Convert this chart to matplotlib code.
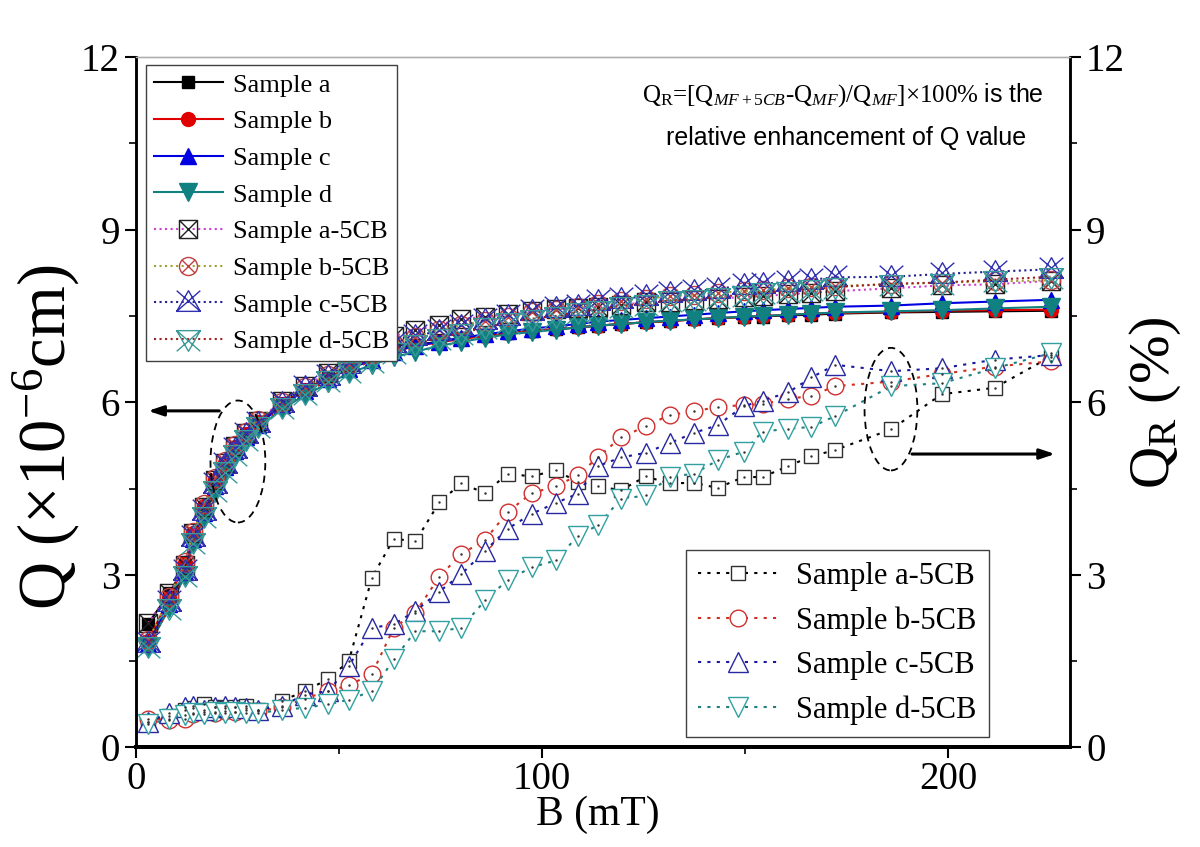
import numpy as np
import matplotlib.pyplot as plt
from matplotlib.path import Path
from matplotlib.patches import Ellipse

plt.rcParams['font.family'] = ['Liberation Serif', 'DejaVu Serif']
plt.rcParams['mathtext.fontset'] = 'custom'
plt.rcParams['mathtext.rm'] = 'Liberation Serif'
plt.rcParams['mathtext.it'] = 'Liberation Serif:italic'
plt.rcParams['mathtext.sf'] = 'Liberation Sans'

# magnetic field (mT)
B = [3.0, 8.2, 12.0, 14.1, 16.8, 19.4, 22.0, 24.5, 27.2, 30.0, 36.0, 41.5, 47.4,
     52.4, 58.1, 63.5, 68.8, 74.7, 80.1, 86.0, 91.5, 97.4, 103.4, 108.8, 113.7,
     119.4, 125.5, 131.4, 137.5, 143.2, 149.6, 154.3, 160.6, 166.3, 172.2, 186.0,
     198.4, 211.4, 225.2]

# Q (x1e-6 cm), magnetic fluid samples
q_a = [2.15, 2.68, 3.15, 3.70, 4.15, 4.62, 4.92, 5.20, 5.43, 5.64, 5.97, 6.22, 6.43,
       6.60, 6.75, 6.90, 7.00, 7.05, 7.12, 7.16, 7.20, 7.24, 7.27, 7.30, 7.33,
       7.36, 7.39, 7.41, 7.44, 7.46, 7.48, 7.49, 7.51, 7.52, 7.54, 7.56, 7.57, 7.58, 7.59]
q_b = [1.85, 2.60, 3.20, 3.72, 4.20, 4.65, 4.95, 5.22, 5.45, 5.65, 5.97, 6.22, 6.42,
       6.60, 6.74, 6.88, 6.98, 7.04, 7.10, 7.15, 7.20, 7.24, 7.27, 7.30, 7.33,
       7.36, 7.39, 7.41, 7.44, 7.46, 7.48, 7.50, 7.52, 7.54, 7.55, 7.57, 7.59, 7.60, 7.61]
q_c = [1.80, 2.50, 3.05, 3.62, 4.08, 4.55, 4.88, 5.15, 5.40, 5.60, 5.95, 6.20, 6.40,
       6.58, 6.73, 6.88, 6.98, 7.05, 7.12, 7.18, 7.23, 7.28, 7.32, 7.36, 7.40,
       7.43, 7.46, 7.49, 7.52, 7.55, 7.58, 7.60, 7.62, 7.64, 7.66, 7.68, 7.72, 7.75, 7.78]
q_d = [1.75, 2.42, 2.98, 3.55, 4.00, 4.45, 4.78, 5.07, 5.33, 5.55, 5.88, 6.12, 6.33,
       6.50, 6.65, 6.78, 6.88, 6.98, 7.05, 7.12, 7.18, 7.22, 7.26, 7.30, 7.33,
       7.36, 7.39, 7.42, 7.44, 7.46, 7.49, 7.50, 7.52, 7.54, 7.56, 7.58, 7.60, 7.63, 7.66]

# Q with 5CB added
q_a5 = [2.16, 2.69, 3.17, 3.73, 4.18, 4.65, 4.95, 5.24, 5.47, 5.68, 6.02, 6.28, 6.51,
        6.70, 6.95, 7.15, 7.25, 7.35, 7.45, 7.48, 7.54, 7.58, 7.62, 7.64, 7.66,
        7.69, 7.74, 7.75, 7.78, 7.80, 7.83, 7.84, 7.88, 7.90, 7.93, 7.98, 8.03, 8.05, 8.11]
q_b5 = [1.86, 2.61, 3.22, 3.74, 4.23, 4.68, 4.98, 5.25, 5.49, 5.69, 6.01, 6.27, 6.48,
        6.67, 6.83, 7.02, 7.14, 7.25, 7.34, 7.41, 7.49, 7.56, 7.60, 7.65, 7.70,
        7.76, 7.80, 7.84, 7.87, 7.90, 7.93, 7.95, 7.98, 8.00, 8.02, 8.05, 8.08, 8.10, 8.12]
q_c5 = [1.81, 2.52, 3.07, 3.65, 4.11, 4.58, 4.92, 5.19, 5.44, 5.64, 5.99, 6.26, 6.46,
        6.67, 6.87, 7.03, 7.15, 7.24, 7.33, 7.43, 7.50, 7.58, 7.63, 7.68, 7.76,
        7.80, 7.84, 7.89, 7.93, 7.97, 8.03, 8.06, 8.09, 8.13, 8.17, 8.18, 8.23, 8.27, 8.31]
q_d5 = [1.76, 2.43, 3.00, 3.57, 4.02, 4.48, 4.81, 5.10, 5.36, 5.58, 5.92, 6.16, 6.38,
        6.55, 6.72, 6.88, 7.02, 7.12, 7.20, 7.30, 7.39, 7.45, 7.50, 7.57, 7.61,
        7.68, 7.71, 7.77, 7.79, 7.83, 7.87, 7.91, 7.94, 7.96, 8.00, 8.06, 8.08, 8.13, 8.18]

# relative enhancement QR (%)
qr_a = [0.45, 0.55, 0.65, 0.68, 0.76, 0.70, 0.68, 0.70, 0.72, 0.66, 0.81, 0.98, 1.19,
        1.50, 2.95, 3.63, 3.58, 4.26, 4.59, 4.42, 4.76, 4.71, 4.82, 4.61, 4.54,
        4.47, 4.71, 4.59, 4.60, 4.51, 4.70, 4.70, 4.89, 5.06, 5.17, 5.53, 6.14, 6.25, 6.79]
qr_b = [0.50, 0.48, 0.50, 0.58, 0.62, 0.60, 0.64, 0.62, 0.65, 0.63, 0.70, 0.85, 0.98,
        1.08, 1.28, 2.08, 2.34, 2.97, 3.36, 3.61, 4.09, 4.42, 4.54, 4.73, 5.04,
        5.39, 5.58, 5.78, 5.84, 5.92, 5.95, 5.97, 6.06, 6.11, 6.28, 6.36, 6.49, 6.62, 6.71]
qr_c = [0.45, 0.60, 0.70, 0.72, 0.66, 0.70, 0.72, 0.70, 0.68, 0.66, 0.72, 0.92, 0.98,
        1.41, 2.08, 2.14, 2.37, 2.71, 3.01, 3.42, 3.80, 4.06, 4.25, 4.41, 4.89,
        5.04, 5.12, 5.29, 5.47, 5.60, 5.93, 6.03, 6.17, 6.43, 6.65, 6.54, 6.59, 6.74, 6.82]
qr_d = [0.40, 0.50, 0.57, 0.60, 0.58, 0.62, 0.60, 0.62, 0.60, 0.60, 0.65, 0.69, 0.75,
        0.83, 0.98, 1.53, 2.02, 2.02, 2.08, 2.56, 2.91, 3.13, 3.25, 3.68, 3.86,
        4.32, 4.38, 4.70, 4.76, 4.99, 5.14, 5.49, 5.54, 5.57, 5.76, 6.28, 6.33, 6.59, 6.85]

labels = ['Sample a', 'Sample b', 'Sample c', 'Sample d']
labels_5cb = ['Sample a-5CB', 'Sample b-5CB', 'Sample c-5CB', 'Sample d-5CB']


# crossed marker shapes (shape outline + X)
M, L, C = Path.MOVETO, Path.LINETO, Path.CLOSEPOLY

def with_cross(verts, cross):
    v = list(verts) + [verts[0]]
    c = [M] + [L] * (len(verts) - 1) + [C]
    for p0, p1 in cross:
        v += [p0, p1]
        c += [M, L]
    return Path(v, c)

sq_x = with_cross([(-1, -1), (1, -1), (1, 1), (-1, 1)],
                  [((-1, -1), (1, 1)), ((-1, 1), (1, -1))])
circ = Path.unit_circle()
circ_x = Path.make_compound_path(
    circ, Path([(-0.75, -0.75), (0.75, 0.75), (-0.75, 0.75), (0.75, -0.75)], [M, L, M, L]))
tri_up_x = with_cross([(0, 1), (-1, -0.75), (1, -0.75)],
                      [((-1, -0.75), (1, 1)), ((1, -0.75), (-1, 1))])
tri_dn_x = with_cross([(0, -1), (-1, 0.75), (1, 0.75)],
                      [((-1, 0.75), (1, -1)), ((1, 0.75), (-1, -1))])

fig = plt.figure(figsize=(12, 8.47), dpi=100)
ax = fig.add_axes([0.1133, 0.1175, 0.7784, 0.8152])
ax2 = ax.twinx()

# upper curves: Q on left axis
ax.plot(B, q_a, '-', color='black', lw=1.5, marker='s', ms=8, label=labels[0])
ax.plot(B, q_b, '-', color='#e00000', lw=1.5, marker='o', ms=10, label=labels[1])
ax.plot(B, q_c, '-', color='#0000e0', lw=1.5, marker='^', ms=12, label=labels[2])
ax.plot(B, q_d, '-', color='#108080', lw=1.5, marker='v', ms=13, label=labels[3])

ax.plot(B, q_a5, ':', color='#d040d0', lw=1.5, marker=sq_x, ms=13, mfc='none',
        mec='#202020', mew=1, label=labels_5cb[0])
ax.plot(B, q_b5, ':', color='#a0a030', lw=1.5, marker=circ_x, ms=13, mfc='none',
        mec='#c04040', mew=1, label=labels_5cb[1])
ax.plot(B, q_c5, ':', color='#202090', lw=1.5, marker=tri_up_x, ms=17, mfc='none',
        mec='#3030b0', mew=1, label=labels_5cb[2])
ax.plot(B, q_d5, ':', color='#a02020', lw=1.5, marker=tri_dn_x, ms=17, mfc='none',
        mec='#3a9a9a', mew=1, label=labels_5cb[3])

# lower curves: QR on right axis
dash = (0, (1.5, 3))
ax2.plot(B, qr_a, color='black', ls=dash, lw=1.5, marker='s', ms=10, mfc='white',
         mec='#303030', mew=1, label=labels_5cb[0])
ax2.plot(B, qr_b, color='#d03020', ls=dash, lw=1.5, marker='o', ms=12, mfc='white',
         mec='#d03030', mew=1, label=labels_5cb[1])
ax2.plot(B, qr_c, color='#1818a0', ls=dash, lw=1.5, marker='^', ms=15, mfc='white',
         mec='#2828a0', mew=1, label=labels_5cb[2])
ax2.plot(B, qr_d, color='#208080', ls=dash, lw=1.5, marker='v', ms=15, mfc='white',
         mec='#30a0a0', mew=1, label=labels_5cb[3])
for qr in (qr_a, qr_b, qr_c, qr_d):
    ax2.plot(B, qr, ls='none', marker='.', ms=1.5, color='#303030')

# axes limits and ticks
for a in (ax, ax2):
    a.set_xlim(0, 230)
    a.set_ylim(0, 12)
    a.set_yticks([0, 3, 6, 9, 12])
    a.set_yticks(np.arange(0, 12.1, 1.5), minor=True)
    a.tick_params(which='major', direction='out', length=8, width=1.5, labelsize=28)
    a.tick_params(which='minor', direction='out', length=5, width=1.2)
ax.set_xticks([0, 100, 200])
ax.set_xticks([50, 150], minor=True)
ax.tick_params(axis='x', pad=2)

for s in ('left', 'right'):
    ax.spines[s].set_linewidth(1.8)
    ax2.spines[s].set_linewidth(1.8)
ax.spines['bottom'].set_linewidth(2.8)
ax2.spines['bottom'].set_linewidth(2.8)
for a in (ax, ax2):
    a.spines['top'].set_color('#b0b0b0')
    a.spines['top'].set_linewidth(1)

ax.set_ylabel(r'Q (×10$^{\mathregular{-6}}$cm)', fontsize=48)
ax.yaxis.set_label_coords(-0.058, 0.45)
ax2.set_ylabel(r'Q$_{\mathregular{R}}$ (%)', fontsize=42)
ax2.yaxis.set_label_coords(1.062, 0.5)
ax.set_xlabel('B (mT)', fontsize=30)
ax.xaxis.set_label_coords(0.494, -0.07)

# legends
leg1 = ax.legend(loc='upper left', bbox_to_anchor=(0.011, 0.988), borderaxespad=0,
                 fontsize=19, handlelength=2.6, labelspacing=0.5, handletextpad=0.4,
                 borderpad=0.3, fancybox=False, framealpha=1, edgecolor='#404040')
leg1.get_frame().set_linewidth(1)
leg2 = ax2.legend(loc='lower left', bbox_to_anchor=(0.589, 0.015), borderaxespad=0,
                  fontsize=22, handlelength=2.6, labelspacing=0.5, handletextpad=0.6,
                  borderpad=0.4, fancybox=False, framealpha=1, edgecolor='#404040')
leg2.get_frame().set_linewidth(1)

# annotation text
ax.text(0.757, 0.945,
        r'Q$_{\mathregular{R}}$=[Q$_{MF+5CB}$-Q$_{MF}$)/Q$_{MF}$]×100% $\mathsf{is\ the}$',
        transform=ax.transAxes, ha='center', va='center', fontsize=18)
ax.text(0.76, 0.883, 'relative enhancement of Q value', transform=ax.transAxes,
        ha='center', va='center', fontsize=18, family='Liberation Sans')

# ellipses and arrows
ax.add_patch(Ellipse((25.1, 4.97), 13.5, 2.12, fill=False, ls=(0, (4, 3)), lw=1.3,
                     color='black', zorder=5))
ax.add_patch(Ellipse((185.9, 5.88), 13.0, 2.13, fill=False, ls=(0, (4, 3)), lw=1.3,
                     color='black', zorder=5))
ax.annotate('', xy=(2.3, 5.85), xytext=(21.2, 5.85),
            arrowprops=dict(arrowstyle='-|>,head_length=0.9,head_width=0.3',
                            color='black', lw=2.2))
ax2.annotate('', xy=(227, 5.10), xytext=(190.4, 5.10),
             arrowprops=dict(arrowstyle='-|>,head_length=0.9,head_width=0.3',
                             color='black', lw=2.2))

fig.savefig('out.png', dpi=100)
